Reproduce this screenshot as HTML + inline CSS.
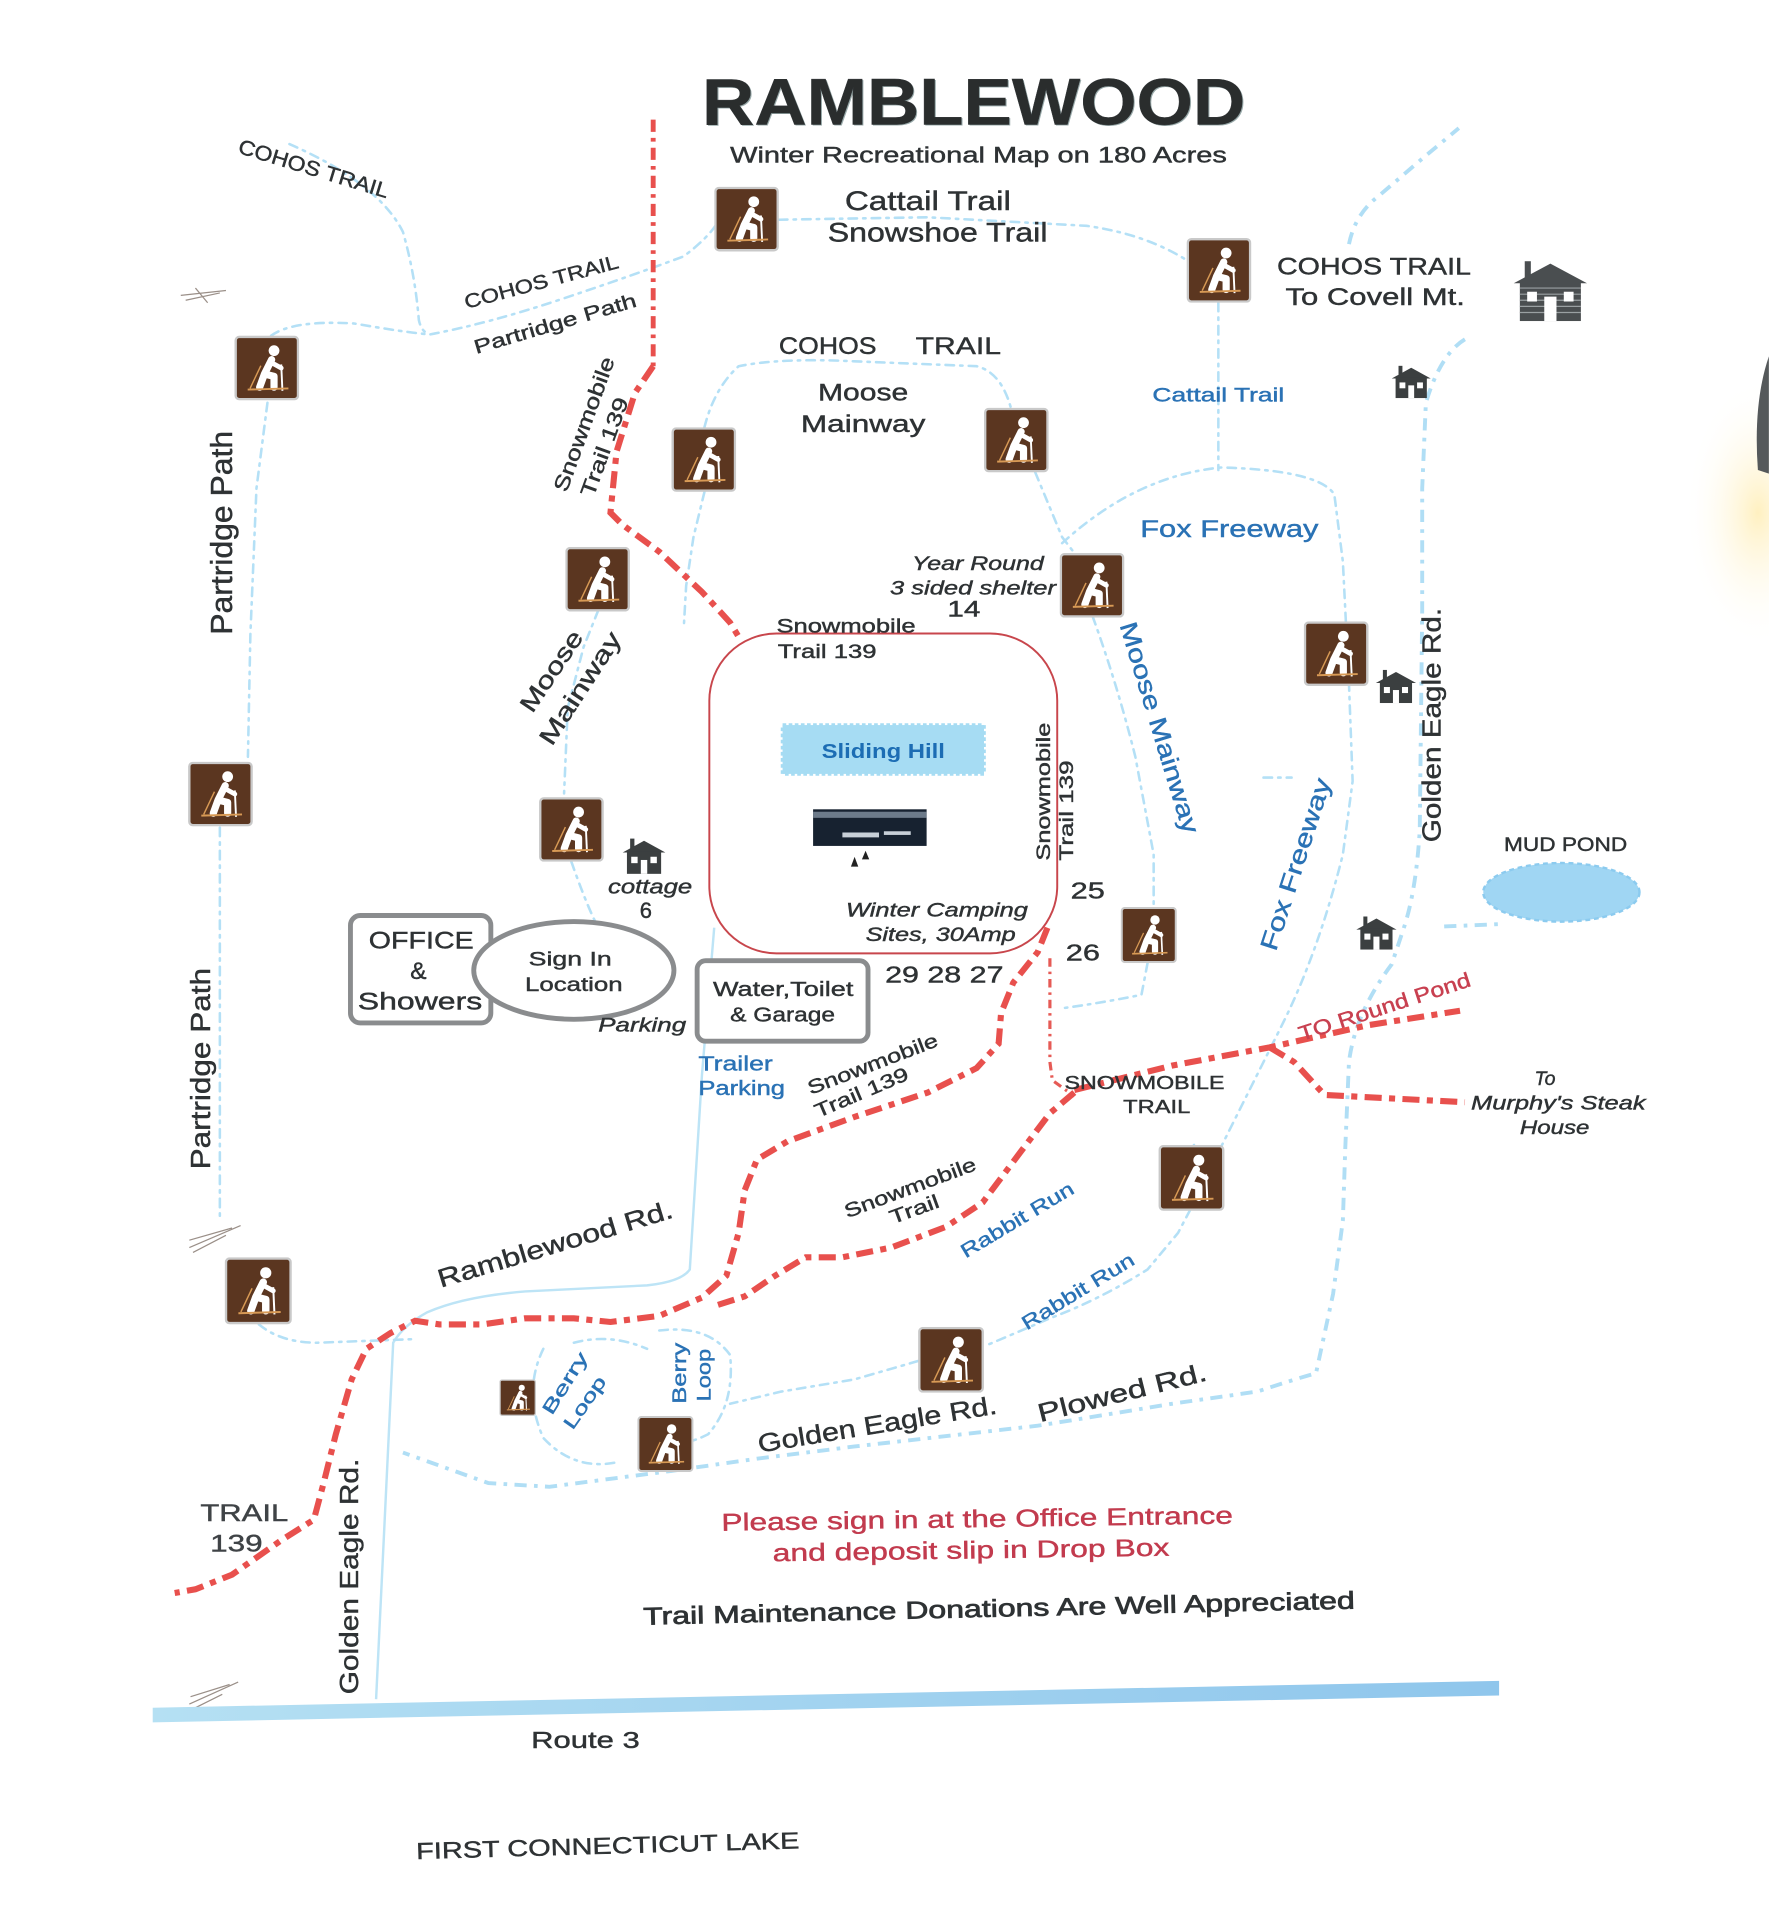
<!DOCTYPE html>
<html><head><meta charset="utf-8"><style>
html,body{margin:0;padding:0;background:#fff;}
svg{display:block;}
.t{font-family:"Liberation Sans",sans-serif;fill:#2e3234;stroke:#2e3234;stroke-width:0.35;}
.bl{fill:#2a72b5;stroke:#2a72b5;}
.it{font-style:italic;}
.bt{stroke:#b4e0f6;stroke-width:2.1;fill:none;stroke-dasharray:7 5 2 5;stroke-linecap:round;}
.bt2{stroke:#b0def5;stroke-width:3.2;fill:none;stroke-dasharray:10 6 3 6;}
.rd{stroke:#e8504d;stroke-width:5;fill:none;stroke-dasharray:14 6 5 6;}
.rd2{stroke:#e65a55;stroke-width:2.6;fill:none;stroke-dasharray:7 4 2 4;}
</style></head><body>
<svg xmlns="http://www.w3.org/2000/svg" width="1769" height="1914" viewBox="0 0 1449 1568">
<defs>
<symbol id="hk" viewBox="0 0 54 54">
<rect x="1" y="1" width="52" height="52" rx="3" fill="#5b3620" stroke="#c9c9c9" stroke-width="2"/>
<line x1="22" y1="25" x2="13" y2="44" stroke="#d89a55" stroke-width="1.2"/>
<circle cx="33" cy="12.5" r="4.5" fill="#fff"/>
<path d="M31,20 L25,32 M25,32 L21,43 M25,32 L33,34 L33,43" stroke="#fff" stroke-width="6" stroke-linecap="round" stroke-linejoin="round" fill="none"/>
<path d="M30,22 L39,27" stroke="#fff" stroke-width="4" stroke-linecap="round"/>
<line x1="39" y1="24" x2="40" y2="46" stroke="#fff" stroke-width="1.6"/>
<line x1="11" y1="45" x2="45" y2="44" stroke="#d89a55" stroke-width="1.6"/>
</symbol>
<symbol id="hs" viewBox="0 0 40 34">
<rect x="7" y="1" width="4" height="10" fill="#3b3f40"/>
<polygon points="0,14 20,3 40,14" fill="#3b3f40"/>
<rect x="4" y="13" width="32" height="21" fill="#3b3f40"/>
<rect x="8" y="18" width="6" height="6" fill="#fff"/>
<rect x="26" y="18" width="6" height="6" fill="#fff"/>
<rect x="17" y="21" width="6" height="13" fill="#fff"/>
</symbol>
<linearGradient id="rt" x1="0" y1="0" x2="1" y2="0">
<stop offset="0" stop-color="#b5e0f3"/><stop offset="1" stop-color="#8fc6ec"/>
</linearGradient>
<radialGradient id="gl" cx="0.5" cy="0.5" r="0.5">
<stop offset="0" stop-color="#fff0c0"/><stop offset="1" stop-color="#fff" stop-opacity="0"/>
</radialGradient>
</defs>

<!-- right-edge object -->
<ellipse cx="1440" cy="420" rx="60" ry="110" fill="url(#gl)"/>
<path d="M1449,292 Q1436,330 1440,385 L1449,388 Z" fill="#55595b"/>

<!-- sketch marks -->
<g stroke="#9a8f88" stroke-width="1" fill="none">
<path d="M148,242 L185,238 M152,246 L180,240 M160,236 L170,248"/>
<path d="M155,1022 L197,1004 M155,1016 L190,1006 M158,1026 L185,1012"/>
<path d="M155,1396 L195,1378 M156,1390 L188,1380 M158,1400 L182,1388"/>
</g>

<!-- Route 3 band -->
<polygon points="125,1399 1228,1377 1228,1389 125,1411" fill="url(#rt)"/>

<!-- Ramblewood Rd solid line -->
<path d="M585,760 L575,880 L565,1040 Q558,1050 530,1053 L430,1058 Q380,1062 350,1075 Q330,1086 322,1100 L308,1392" stroke="#bde4f6" stroke-width="2" fill="none"/>

<!-- blue trails -->
<path class="bt" d="M237,118 Q310,150 330,190 Q340,225 343,262 Q345,272 352,274"/>
<path class="bt" d="M222,275 Q240,262 290,265 Q330,272 352,274 Q400,265 460,245 Q520,225 560,210 Q580,195 588,182"/>
<path class="bt" d="M638,180 L760,178 L890,185 Q940,192 975,215"/>
<path class="bt2" d="M1105,200 Q1110,175 1130,160 L1165,130 L1195,105"/>
<path class="bt" d="M998,248 L998,385"/>
<path class="bt" d="M870,445 Q930,390 1000,383 Q1080,385 1093,405 L1100,460 L1105,560 L1108,640 L1100,700 Q1080,780 1050,840 L1020,900 L990,960 L978,938"/>
<path class="bt2" d="M1200,278 Q1180,290 1168,330 L1165,400 L1165,500 L1163,680 Q1160,730 1150,760 L1140,790 Q1110,830 1105,870 L1102,940 L1100,1000 L1092,1060 L1078,1125 Q1060,1130 1030,1140 L960,1150 Q900,1160 850,1168 L700,1185 L620,1195 L550,1205 L450,1218 L400,1215 L330,1190"/>
<path class="bt2" d="M1183,759 L1230,757"/>
<path class="bt" d="M577,350 Q585,318 605,300 Q640,293 700,296 L800,300 Q820,305 828,334"/>
<path class="bt" d="M577,403 L568,440 L562,480 L560,515"/>
<path class="bt" d="M219,330 L210,400 L205,520 L203,620"/>
<path class="bt" d="M180,678 L180,800 L180,1000"/>
<path class="bt" d="M212,1085 Q230,1100 260,1100 L340,1097"/>
<path class="bt" d="M490,500 L478,530 L465,580 L462,650"/>
<path class="bt" d="M468,706 Q480,740 488,756"/>
<path class="bt" d="M848,387 L870,440 L880,453"/>
<path class="bt" d="M895,505 Q915,560 930,620 L945,700 L945,743"/>
<path class="bt" d="M940,789 L935,815 Q900,822 870,826"/>
<path class="bt" d="M975,991 L965,1010 L940,1040 Q900,1065 860,1080 L806,1103"/>
<path class="bt" d="M752,1115 L700,1130 L640,1140 L598,1150"/>
<path class="bt" d="M445,1105 Q428,1140 445,1178 Q470,1205 505,1198"/>
<path class="bt" d="M470,1100 Q500,1092 530,1105"/>
<path class="bt" d="M540,1090 Q580,1085 598,1110 Q602,1150 580,1175 Q560,1185 545,1182"/>
<path class="bt" d="M1035,637 L1058,637"/>

<!-- camping area -->
<rect x="581" y="519" width="285" height="262" rx="55" fill="none" stroke="#c8464c" stroke-width="1.6"/>
<rect x="641" y="594" width="165" height="40" fill="#a6dcf3" stroke="#a6dcf3" stroke-width="3" stroke-dasharray="3 2"/>
<rect x="666" y="663" width="93" height="30" fill="#172230"/>
<rect x="666" y="665" width="93" height="5" fill="#6d7b8a"/>
<rect x="690" y="682" width="30" height="4" fill="#c8d0d8"/>
<rect x="724" y="681" width="22" height="3" fill="#c8d0d8"/>
<polygon points="697,710 700,702 703,710" fill="#222"/>
<polygon points="706,704 709,697 712,704" fill="#222"/>

<!-- red snowmobile trails -->
<path class="rd" style="stroke-width:4;stroke-dasharray:10 5 3 5" d="M535,98 L535,300"/>
<path class="rd" d="M535,300 L520,322 L505,370 L500,420 L510,430 L540,452 L575,485 L598,510 L607,525"/>
<path class="rd" d="M858,760 L850,780 L830,805 L820,830 L818,855 L800,875 L760,895 L700,915 L645,935 L620,950 L610,975 L605,1010 L595,1045 L575,1063 L540,1078 L500,1083 L470,1080 L430,1080 L395,1085 L360,1085 L340,1082 L320,1092 L300,1105 L288,1130 L275,1175 L265,1215 L257,1245 L230,1262 L190,1290 L160,1302 L143,1305"/>
<path class="rd2" d="M860,785 L860,870 L862,885 L880,898"/>
<path class="rd" d="M880,895 L860,912 L835,945 L805,985 L775,1005 L730,1022 L690,1030 L660,1030 L635,1045 L610,1062 L585,1070"/>
<path class="rd" d="M880,893 L960,873 L1040,858 L1120,840 L1196,828"/>
<path class="rd" d="M1040,858 L1060,870 L1085,897 L1200,903"/>

<!-- mud pond -->
<ellipse cx="1279" cy="731" rx="64" ry="24" fill="#a0d6f3" stroke="#8ccbef" stroke-width="2" stroke-dasharray="4 3"/>

<!-- office boxes -->
<rect x="287" y="750" width="115" height="88" rx="8" fill="#fff" stroke="#8a8c8e" stroke-width="4"/>
<ellipse cx="470" cy="795" rx="82" ry="40" fill="#fff" stroke="#8a8c8e" stroke-width="4"/>
<rect x="571" y="787" width="140" height="66" rx="7" fill="#fff" stroke="#8a8c8e" stroke-width="4"/>

<!-- hiker icons -->
<use href="#hk" x="585" y="153" width="53" height="53"/>
<use href="#hk" x="972" y="195" width="53" height="53"/>
<use href="#hk" x="192" y="275" width="53" height="53"/>
<use href="#hk" x="550" y="350" width="53" height="53"/>
<use href="#hk" x="806" y="334" width="53" height="53"/>
<use href="#hk" x="463" y="448" width="53" height="53"/>
<use href="#hk" x="868" y="453" width="53" height="53"/>
<use href="#hk" x="1068" y="509" width="53" height="53"/>
<use href="#hk" x="153" y="624" width="55" height="53"/>
<use href="#hk" x="441" y="653" width="54" height="53"/>
<use href="#hk" x="918" y="743" width="46" height="46"/>
<use href="#hk" x="949" y="938" width="54" height="54"/>
<use href="#hk" x="184" y="1030" width="55" height="55"/>
<use href="#hk" x="752" y="1087" width="54" height="54"/>
<use href="#hk" x="522" y="1160" width="46" height="46"/>
<use href="#hk" x="409" y="1130" width="30" height="30"/>

<!-- houses -->
<g>
<rect x="1249" y="214" width="5" height="14" fill="#4a4e50"/>
<polygon points="1240,232 1270,216 1300,232" fill="#4a4e50"/>
<rect x="1245" y="231" width="50" height="32" fill="#4a4e50"/>
<g stroke="#9aa0a2" stroke-width="1">
<line x1="1245" y1="236" x2="1295" y2="236"/><line x1="1245" y1="241" x2="1295" y2="241"/><line x1="1245" y1="246" x2="1295" y2="246"/><line x1="1245" y1="251" x2="1295" y2="251"/><line x1="1245" y1="256" x2="1295" y2="256"/>
</g>
<rect x="1251" y="239" width="8" height="8" fill="#fff"/>
<rect x="1281" y="239" width="8" height="8" fill="#fff"/>
<rect x="1265" y="243" width="10" height="20" fill="#fff"/>
</g>
<use href="#hs" x="1140" y="298" width="32" height="29"/>
<use href="#hs" x="1127" y="548" width="33" height="28"/>
<use href="#hs" x="510" y="686" width="35" height="30"/>
<use href="#hs" x="1110" y="750" width="35" height="28"/>

<!-- title -->
<text class="t" x="576" y="103" font-size="54" font-weight="bold" textLength="445" lengthAdjust="spacingAndGlyphs" style="fill:#9aa;stroke:none">RAMBLEWOOD</text>
<text class="t" x="575" y="102" font-size="54" font-weight="bold" textLength="445" lengthAdjust="spacingAndGlyphs" style="fill:#2a2d2d">RAMBLEWOOD</text>
<text class="t" x="598" y="133" font-size="18" textLength="407" lengthAdjust="spacingAndGlyphs">Winter Recreational Map on 180 Acres</text>

<!-- labels -->
<g class="t" font-size="22">
<text x="692" y="172" textLength="136" lengthAdjust="spacingAndGlyphs">Cattail Trail</text>
<text x="678" y="198" textLength="180" lengthAdjust="spacingAndGlyphs">Snowshoe Trail</text>
</g>
<g class="t" font-size="20">
<text x="638" y="290" textLength="80" lengthAdjust="spacingAndGlyphs">COHOS</text>
<text x="750" y="290" textLength="70" lengthAdjust="spacingAndGlyphs">TRAIL</text>
<text x="670" y="328" textLength="74" lengthAdjust="spacingAndGlyphs">Moose</text>
<text x="656" y="354" textLength="102" lengthAdjust="spacingAndGlyphs">Mainway</text>
<text x="1046" y="225" textLength="159" lengthAdjust="spacingAndGlyphs">COHOS TRAIL</text>
<text x="1053" y="250" textLength="147" lengthAdjust="spacingAndGlyphs">To Covell Mt.</text>
</g>
<text class="t" transform="translate(194,125) rotate(17)" font-size="17" textLength="128" lengthAdjust="spacingAndGlyphs">COHOS TRAIL</text>
<text class="t" transform="translate(382,253) rotate(-15)" font-size="16" textLength="130" lengthAdjust="spacingAndGlyphs">COHOS TRAIL</text>
<text class="t" transform="translate(390,290) rotate(-16.5)" font-size="16" textLength="138" lengthAdjust="spacingAndGlyphs">Partridge Path</text>
<text class="t" transform="translate(464,404) rotate(-70)" font-size="17" textLength="116" lengthAdjust="spacingAndGlyphs">Snowmobile</text>
<text class="t" transform="translate(486,408) rotate(-70)" font-size="17" textLength="85" lengthAdjust="spacingAndGlyphs">Trail 139</text>
<text class="t" transform="translate(190,520) rotate(-90)" font-size="25" textLength="167" lengthAdjust="spacingAndGlyphs">Partridge Path</text>
<text class="t" transform="translate(172,958) rotate(-90)" font-size="23" textLength="165" lengthAdjust="spacingAndGlyphs">Partridge Path</text>

<text class="t bl" x="944" y="329" font-size="16" textLength="108" lengthAdjust="spacingAndGlyphs">Cattail Trail</text>
<text class="t bl" x="934" y="440" font-size="20" textLength="146" lengthAdjust="spacingAndGlyphs">Fox Freeway</text>

<g class="t it" font-size="16">
<text x="747" y="467" textLength="108" lengthAdjust="spacingAndGlyphs">Year Round</text>
<text x="729" y="487" textLength="136" lengthAdjust="spacingAndGlyphs">3 sided shelter</text>
<text x="693" y="751" textLength="149" lengthAdjust="spacingAndGlyphs">Winter Camping</text>
<text x="709" y="771" textLength="123" lengthAdjust="spacingAndGlyphs">Sites, 30Amp</text>
<text x="498" y="732" font-size="17" textLength="69" lengthAdjust="spacingAndGlyphs">cottage</text>
<text x="490" y="845" textLength="72" lengthAdjust="spacingAndGlyphs">Parking</text>
<text x="1257" y="889">To</text>
<text x="1205" y="909" textLength="143" lengthAdjust="spacingAndGlyphs">Murphy's Steak</text>
<text x="1245" y="929" textLength="57" lengthAdjust="spacingAndGlyphs">House</text>
</g>
<g class="t" font-size="18">
<text x="776" y="505" textLength="27" lengthAdjust="spacingAndGlyphs">14</text>
<text x="524" y="752">6</text>
<text x="877" y="736" font-size="19" textLength="28" lengthAdjust="spacingAndGlyphs">25</text>
<text x="873" y="787" font-size="19" textLength="28" lengthAdjust="spacingAndGlyphs">26</text>
<text x="725" y="805" font-size="19" textLength="97" lengthAdjust="spacingAndGlyphs">29 28 27</text>
</g>
<g class="t" font-size="16">
<text x="636" y="518" textLength="114" lengthAdjust="spacingAndGlyphs">Snowmobile</text>
<text x="637" y="539" textLength="81" lengthAdjust="spacingAndGlyphs">Trail 139</text>
<text x="433" y="791" textLength="68" lengthAdjust="spacingAndGlyphs">Sign In</text>
<text x="430" y="812" textLength="80" lengthAdjust="spacingAndGlyphs">Location</text>
<text x="584" y="816" font-size="17" textLength="115" lengthAdjust="spacingAndGlyphs">Water,Toilet</text>
<text x="598" y="837" font-size="17" textLength="86" lengthAdjust="spacingAndGlyphs">&amp; Garage</text>
<text x="872" y="892" font-size="15" textLength="131" lengthAdjust="spacingAndGlyphs">SNOWMOBILE</text>
<text x="920" y="912" font-size="15" textLength="55" lengthAdjust="spacingAndGlyphs">TRAIL</text>
<text x="1232" y="697" textLength="101" lengthAdjust="spacingAndGlyphs">MUD POND</text>
</g>
<text class="t" x="673" y="621" font-size="17" font-weight="bold" textLength="101" lengthAdjust="spacingAndGlyphs" style="fill:#1c6db4;stroke:none">Sliding Hill</text>
<text class="t" transform="translate(860,705) rotate(-90)" font-size="16" textLength="113" lengthAdjust="spacingAndGlyphs">Snowmobile</text>
<text class="t" transform="translate(879,705) rotate(-90)" font-size="16" textLength="82" lengthAdjust="spacingAndGlyphs">Trail 139</text>
<text class="t" transform="translate(436,585) rotate(-56)" font-size="20" textLength="76" lengthAdjust="spacingAndGlyphs">Moose</text>
<text class="t" transform="translate(452,612) rotate(-57)" font-size="20" textLength="106" lengthAdjust="spacingAndGlyphs">Mainway</text>
<text class="t bl" transform="translate(917,512) rotate(73)" font-size="20" textLength="180" lengthAdjust="spacingAndGlyphs">Moose Mainway</text>

<g class="t" font-size="20">
<text x="302" y="777" textLength="86" lengthAdjust="spacingAndGlyphs">OFFICE</text>
<text x="336" y="802">&amp;</text>
<text x="293" y="827" textLength="102" lengthAdjust="spacingAndGlyphs">Showers</text>
</g>
<text class="t bl" x="572" y="877" font-size="17" textLength="61" lengthAdjust="spacingAndGlyphs">Trailer</text>
<text class="t bl" x="572" y="897" font-size="17" textLength="71" lengthAdjust="spacingAndGlyphs">Parking</text>
<text class="t" transform="translate(664,897) rotate(-21)" font-size="16" textLength="113" lengthAdjust="spacingAndGlyphs">Snowmobile</text>
<text class="t" transform="translate(670,916) rotate(-23)" font-size="16" textLength="82" lengthAdjust="spacingAndGlyphs">Trail 139</text>
<text class="t" transform="translate(1066,853) rotate(-18)" font-size="17" textLength="147" lengthAdjust="spacingAndGlyphs" style="fill:#c84050;stroke:#c84050">TO Round Pond</text>
<text class="t" transform="translate(1180,690) rotate(-90)" font-size="21" textLength="192" lengthAdjust="spacingAndGlyphs">Golden Eagle Rd.</text>
<text class="t bl" transform="translate(1045,780) rotate(-72)" font-size="20" textLength="147" lengthAdjust="spacingAndGlyphs">Fox Freeway</text>
<text class="t" transform="translate(694,998) rotate(-20.5)" font-size="16" textLength="114" lengthAdjust="spacingAndGlyphs">Snowmobile</text>
<text class="t" transform="translate(731,1003) rotate(-20)" font-size="16" textLength="42" lengthAdjust="spacingAndGlyphs">Trail</text>
<text class="t bl" transform="translate(791,1031) rotate(-31)" font-size="16" textLength="105" lengthAdjust="spacingAndGlyphs">Rabbit Run</text>
<text class="t bl" transform="translate(841,1090) rotate(-31.5)" font-size="16" textLength="105" lengthAdjust="spacingAndGlyphs">Rabbit Run</text>
<text class="t" transform="translate(361,1055) rotate(-16.8)" font-size="21" textLength="200" lengthAdjust="spacingAndGlyphs">Ramblewood Rd.</text>
<text class="t bl" transform="translate(452,1160) rotate(-58)" font-size="15" textLength="57" lengthAdjust="spacingAndGlyphs">Berry</text>
<text class="t bl" transform="translate(469,1172) rotate(-55)" font-size="15" textLength="49" lengthAdjust="spacingAndGlyphs">Loop</text>
<text class="t bl" transform="translate(562,1150) rotate(-90)" font-size="16" textLength="50" lengthAdjust="spacingAndGlyphs">Berry</text>
<text class="t bl" transform="translate(582,1148) rotate(-90)" font-size="16" textLength="43" lengthAdjust="spacingAndGlyphs">Loop</text>
<text class="t" transform="translate(622,1190) rotate(-9.3)" font-size="21" textLength="198" lengthAdjust="spacingAndGlyphs">Golden Eagle Rd.</text>
<text class="t" transform="translate(852,1165) rotate(-14)" font-size="21" textLength="142" lengthAdjust="spacingAndGlyphs">Plowed Rd.</text>
<text class="t" x="164" y="1246" font-size="20" textLength="72" lengthAdjust="spacingAndGlyphs" style="fill:#3f4346;stroke:#3f4346">TRAIL</text>
<text class="t" x="172" y="1271" font-size="20" textLength="43" lengthAdjust="spacingAndGlyphs" style="fill:#3f4346;stroke:#3f4346">139</text>
<text class="t" transform="translate(293,1388) rotate(-90)" font-size="21" textLength="193" lengthAdjust="spacingAndGlyphs">Golden Eagle Rd.</text>

<text class="t" transform="translate(591,1254) rotate(-0.8)" font-size="20" textLength="419" lengthAdjust="spacingAndGlyphs" style="fill:#c23b4e;stroke:#c23b4e">Please sign in at the Office Entrance</text>
<text class="t" transform="translate(633,1279) rotate(-0.8)" font-size="20" textLength="325" lengthAdjust="spacingAndGlyphs" style="fill:#c23b4e;stroke:#c23b4e">and deposit slip in Drop Box</text>
<text class="t" transform="translate(527,1331) rotate(-1.3)" font-size="20" textLength="583" lengthAdjust="spacingAndGlyphs" style="stroke-width:0.6">Trail Maintenance Donations Are Well Appreciated</text>
<text class="t" x="435" y="1432" font-size="19" textLength="89" lengthAdjust="spacingAndGlyphs">Route 3</text>
<text class="t" transform="translate(341,1523) rotate(-1.6)" font-size="19" textLength="314" lengthAdjust="spacingAndGlyphs">FIRST CONNECTICUT LAKE</text>
</svg>
</body></html>
